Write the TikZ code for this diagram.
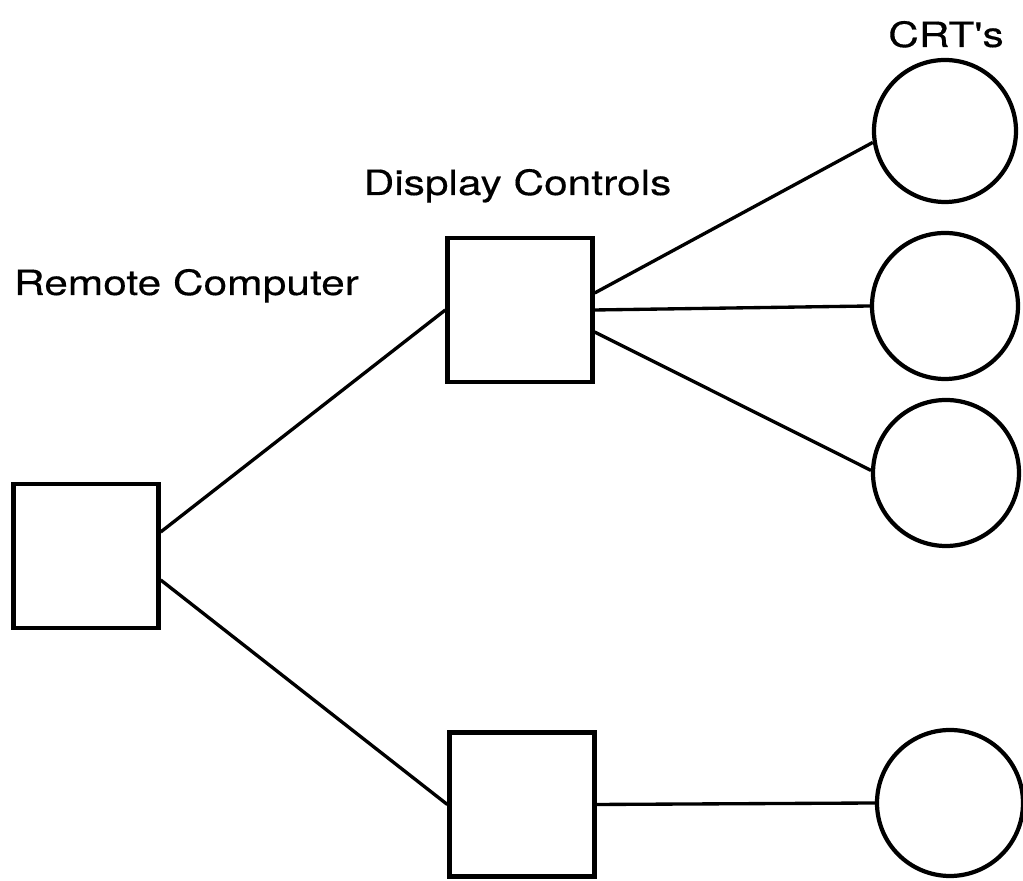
\documentclass[tikz,border=0pt]{standalone}
\usepackage{fontspec}
\newfontfamily\lettering[FakeStretch=1.22,FakeBold=0.3]{TeX Gyre Heros}
\usepackage{tikz}
\usetikzlibrary{positioning}

\begin{document}
\begin{tikzpicture}[
 box/.style={rectangle,draw,line width=2.5pt,inner sep=0pt,minimum width=2.9cm,minimum height=2.88cm},
 crt/.style={circle,draw,line width=2.4pt,inner sep=0pt,minimum size=2.92cm},
 ln/.style={line width=1.9pt},
 lbl/.style={anchor=base,inner sep=0pt,font=\lettering\fontsize{19.8}{24}\selectfont}
]
\useasboundingbox (0,0) rectangle (20.46,17.62);
\node[box] (comp) at (1.72,6.50) {};
\node[box] (ctl) at (10.40,11.42) {};
\node[box] (ctlb) at (10.44,1.53) {};
\node[crt,minimum size=2.84cm] (crta) at (18.90,15.00) {};
\node[crt] (crtb) at (18.90,11.50) {};
\node[crt] (crtc) at (18.92,8.16) {};
\node[crt] (crtd) at (19.00,1.56) {};

\node[lbl] (lcomp) at (3.73,11.72) {Remote Computer};
\node[lbl] (lctl) at (10.35,13.72) {Display Controls};
\node[lbl] (lcrt) at (18.92,16.68) {CRT's};

\draw[ln] ([yshift=0.48cm]comp.east) -- (ctl.west);
\draw[ln] ([yshift=-0.48cm]comp.east) -- (ctlb.west);
\draw[ln] ([yshift=0.34cm]ctl.east) -- (crta.189);
\draw[ln] (ctl.east) -- (crtb.west);
\draw[ln] ([yshift=-0.44cm]ctl.east) -- (crtc.178);
\draw[ln] (ctlb.east) -- (crtd.west);
\end{tikzpicture}
\end{document}
